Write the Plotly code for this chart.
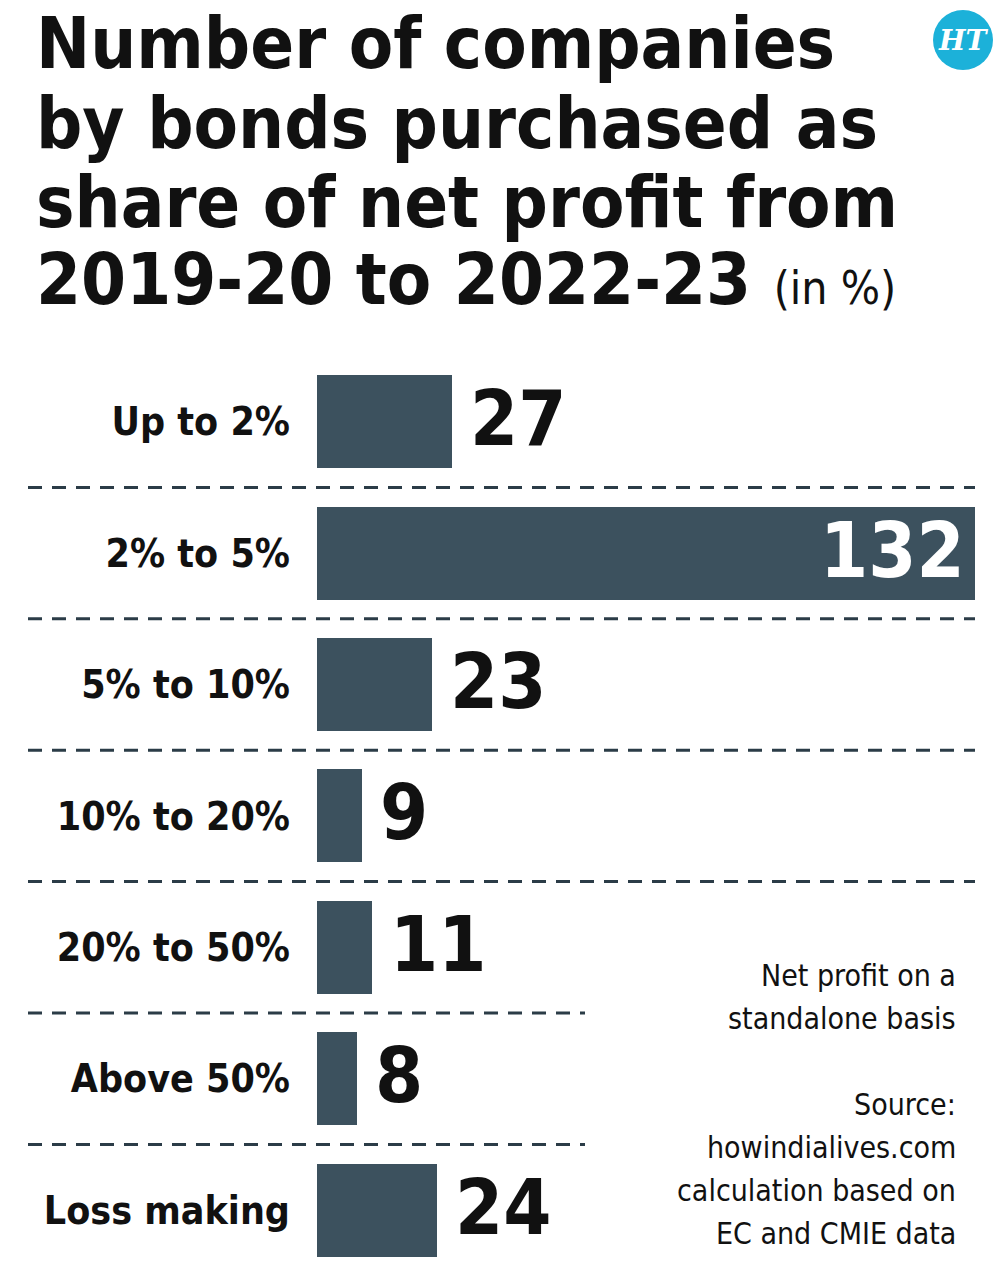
import plotly.graph_objects as go

categories = ["Up to 2%", "2% to 5%", "5% to 10%", "10% to 20%", "20% to 50%", "Above 50%", "Loss making"]
values = [27, 132, 23, 9, 11, 8, 24]
title_lines = ["Number of companies", "by bonds purchased as", "share of net profit from", "2019-20 to 2022-23"]
title_unit = "(in %)"
notes = ["Net profit on a", "standalone basis", "", "Source:", "howindialives.com", "calculation based on", "EC and CMIE data"]

BAR = "#3c515e"
LINE = "#2b3c47"
COND = "DejaVu Sans Condensed, sans-serif"

W, H = 1000, 1269
L, R, T, B = 317, 25, 356, 0
PW, PH = W - L - R, H - T - B
pitch = 131.4
ymax = -0.5 + PH / pitch


def px(x):
    return (x - L) / PW


def py(y):
    return 1 - (y - T) / PH


ypos = list(range(len(categories)))

fig = go.Figure()
fig.add_trace(go.Bar(
    x=values, y=ypos, orientation="h", width=0.708,
    marker=dict(color=BAR, line=dict(width=0)),
    hoverinfo="skip",
))

# value labels
for i, v in enumerate(values):
    if v == max(values):
        fig.add_annotation(x=v, y=i, xref="x", yref="y", text=str(v), showarrow=False,
                           xanchor="right", xshift=-8, yshift=3,
                           font=dict(family=COND, size=77, color="white", weight="bold"))
    else:
        fig.add_annotation(x=v, y=i, xref="x", yref="y", text=str(v), showarrow=False,
                           xanchor="left", xshift=16, yshift=3,
                           font=dict(family=COND, size=77, color="#111111", weight="bold"))

# dashed separators
for i in range(len(categories) - 1):
    x1 = 1.0 if i < 4 else px(585)
    fig.add_shape(type="line", xref="paper", yref="y",
                  x0=px(28), x1=x1, y0=i + 0.5, y1=i + 0.5,
                  line=dict(color=LINE, width=3, dash="14px,10px"))

# title
title_base = [70, 150, 229, 306]
for k, line in enumerate(title_lines):
    txt = line
    if k == len(title_lines) - 1:
        txt = line + " <span style='font-weight:normal;font-size:46px'>" + title_unit + "</span>"
    fig.add_annotation(x=px(34), y=py(title_base[k] + 17), xref="paper", yref="paper",
                       text=txt, showarrow=False, xanchor="left", yanchor="bottom",
                       font=dict(family=COND, size=72, color="#111111", weight="bold"))

# HT logo
cx, cy, r = 963, 40, 30
fig.add_shape(type="circle", xref="paper", yref="paper",
              x0=px(cx - r), x1=px(cx + r), y0=py(cy + r), y1=py(cy - r),
              fillcolor="#1cb1d9", line=dict(width=0), layer="above")
fig.add_annotation(x=px(cx), y=py(cy), xref="paper", yref="paper", text="<i><b>HT</b></i>",
                   showarrow=False, xanchor="center", yanchor="middle",
                   font=dict(family="DejaVu Serif, serif", size=28, color="white"))

# notes
note_top = 956
for k, n in enumerate(notes):
    if not n:
        continue
    fig.add_annotation(x=px(958), y=py(note_top + k * 43), xref="paper", yref="paper",
                       text=n, showarrow=False, xanchor="right", yanchor="top",
                       font=dict(family=COND, size=30, color="#111111"))

fig.update_layout(
    width=W, height=H, margin=dict(l=L, r=R, t=T, b=B, pad=0),
    paper_bgcolor="white", plot_bgcolor="white", showlegend=False,
    bargap=0,
    xaxis=dict(range=[0, 132], visible=False, fixedrange=True),
    yaxis=dict(range=[ymax, -0.5], tickvals=ypos, ticktext=categories, showgrid=False,
               zeroline=False, showline=False, ticks="", ticklabelstandoff=26,
               tickfont=dict(family=COND, size=39, color="#111111", weight="bold")),
)

fig.write_html("out.html")
